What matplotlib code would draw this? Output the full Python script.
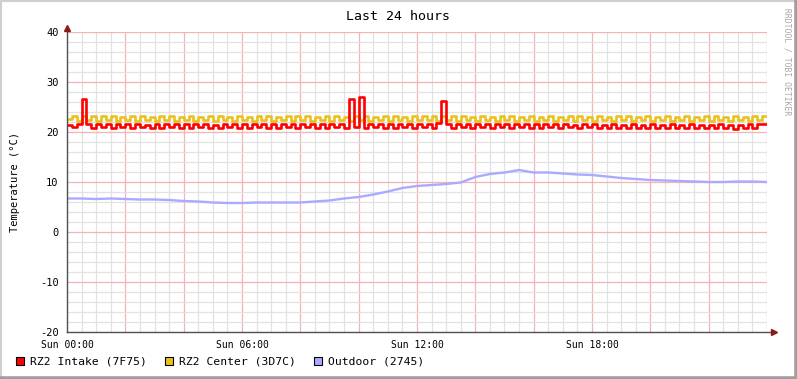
import matplotlib
matplotlib.use("Agg")
import matplotlib.pyplot as plt
from matplotlib.lines import Line2D
from matplotlib.patches import Rectangle
import numpy as np

# RZ2 Intake, 10-minute samples, Sun 00:00 .. Sun 24:00
intake = [
    21.5, 21.0, 21.7, 26.7, 21.6, 20.9, 21.7, 21.0, 21.6, 20.8, 21.7, 21.1,
    21.6, 20.9, 21.7, 21.0, 21.5, 20.8, 21.7, 20.9, 21.6, 21.0, 21.7, 20.9,
    21.6, 20.8, 21.7, 21.0, 21.6, 20.9, 21.5, 20.8, 21.7, 21.0, 21.6, 20.9,
    21.7, 20.9, 21.6, 21.0, 21.7, 20.8, 21.6, 20.9, 21.7, 21.0, 21.6, 20.9,
    21.6, 21.0, 21.7, 20.9, 21.6, 20.8, 21.7, 21.0, 21.6, 20.9, 26.6, 21.0,
    27.0, 20.9, 21.6, 21.0, 21.7, 20.9, 21.6, 20.8, 21.7, 21.0, 21.6, 20.9,
    21.7, 21.0, 21.6, 20.9, 21.8, 26.2, 21.6, 20.9, 21.7, 21.0, 21.6, 20.9,
    21.6, 21.0, 21.7, 20.9, 21.6, 21.1, 21.7, 20.9, 21.6, 21.0, 21.7, 20.9,
    21.6, 20.9, 21.7, 21.0, 21.6, 20.9, 21.7, 21.0, 21.5, 20.9, 21.6, 21.0,
    21.6, 20.8, 21.5, 20.9, 21.6, 20.8, 21.5, 20.9, 21.6, 20.8, 21.5, 20.9,
    21.6, 20.9, 21.5, 20.8, 21.6, 20.9, 21.5, 20.8, 21.6, 20.9, 21.5, 20.8,
    21.5, 20.8, 21.6, 20.9, 21.5, 20.7, 21.4, 20.8, 21.6, 20.9, 21.7, 21.6,
    21.6,
]

# RZ2 Center, 10-minute samples
center = [
    22.6, 23.2, 22.3, 23.3, 22.4, 23.2, 22.3, 23.3, 22.5, 23.2, 22.3, 23.1,
    22.4, 23.2, 22.3, 23.2, 22.4, 23.1, 22.3, 23.2, 22.5, 23.2, 22.3, 23.1,
    22.4, 23.2, 22.3, 23.1, 22.4, 23.2, 22.3, 23.2, 22.4, 23.1, 22.3, 23.2,
    22.4, 23.1, 22.3, 23.2, 22.4, 23.2, 22.3, 23.1, 22.4, 23.2, 22.3, 23.2,
    22.4, 23.2, 22.3, 23.1, 22.5, 23.2, 22.3, 23.2, 22.4, 23.1, 22.3, 23.3,
    22.4, 23.2, 22.3, 23.1, 22.4, 23.2, 22.3, 23.3, 22.4, 23.1, 22.3, 23.2,
    22.5, 23.3, 22.4, 23.2, 22.3, 23.3, 22.4, 23.2, 22.3, 23.2, 22.4, 23.1,
    22.3, 23.2, 22.4, 23.1, 22.3, 23.2, 22.4, 23.2, 22.3, 23.1, 22.4, 23.2,
    22.3, 23.1, 22.4, 23.2, 22.3, 23.1, 22.4, 23.2, 22.3, 23.2, 22.4, 23.1,
    22.3, 23.2, 22.4, 23.1, 22.3, 23.2, 22.4, 23.2, 22.3, 23.1, 22.4, 23.2,
    22.3, 23.1, 22.4, 23.2, 22.3, 23.1, 22.4, 23.2, 22.3, 23.1, 22.4, 23.2,
    22.3, 23.2, 22.4, 23.1, 22.3, 23.2, 22.4, 23.1, 22.3, 23.2, 22.4, 23.2,
    23.2,
]

# Outdoor, 30-minute samples
outdoor = [
    6.7, 6.7, 6.6, 6.7, 6.6, 6.5, 6.5, 6.4, 6.2, 6.1, 5.9, 5.8,
    5.8, 5.9, 5.9, 5.9, 5.9, 6.1, 6.3, 6.7, 7.0, 7.5, 8.1, 8.8,
    9.2, 9.4, 9.6, 9.9, 11.0, 11.6, 11.9, 12.4, 11.9, 11.9, 11.7, 11.5,
    11.4, 11.1, 10.8, 10.6, 10.4, 10.3, 10.2, 10.1, 10.0, 10.0, 10.1, 10.1,
    10.0,
]

labels = ["RZ2 Intake (7F75)", "RZ2 Center (3D7C)", "Outdoor (2745)"]
colors = ["#FF0000", "#E8C21E", "#AAAAFF"]
xtick_pos = [0, 6, 12, 18]
xtick_labels = ["Sun 00:00", "Sun 06:00", "Sun 12:00", "Sun 18:00"]
ytick_pos = [-20, -10, 0, 10, 20, 30, 40]

mono = "DejaVu Sans Mono"
W, H = 797, 379

t10 = np.arange(len(intake)) / 6.0
t30 = np.arange(len(outdoor)) / 2.0

fig = plt.figure(figsize=(W / 100, H / 100), dpi=100, facecolor="white")
ax = fig.add_axes([67 / W, 1 - 332 / H, 700 / W, 300 / H])
ax.set_xlim(0, 24)
ax.set_ylim(-20, 40)
for s in ax.spines.values():
    s.set_visible(False)

# grid
for h in np.arange(0.5, 24.01, 0.5):
    major = abs(h % 2) < 1e-9
    ax.axvline(h, color="#F2B4B4" if major else "#E2E2E2", lw=0.9, zorder=0)
for v in range(-18, 41, 2):
    major = v % 10 == 0
    ax.axhline(v, color="#F2B4B4" if major else "#E2E2E2", lw=0.9, zorder=0)

ax.plot(t10, center, color=colors[1], lw=1.9, drawstyle="steps-post", zorder=3)
ax.plot(t10, intake, color=colors[0], lw=1.9, drawstyle="steps-post", zorder=4)
ax.plot(t30, outdoor, color=colors[2], lw=1.7, zorder=3)

ax.set_xticks(xtick_pos)
ax.set_xticklabels(xtick_labels, fontfamily=mono, fontsize=7)
ax.set_yticks(ytick_pos)
ax.set_yticklabels([str(v) for v in ytick_pos], fontfamily=mono, fontsize=7.5)
ax.tick_params(length=0, pad=6)

# axes with arrow heads
ax.plot([0, 1.008], [0, 0], transform=ax.transAxes, color="#505050", lw=1, clip_on=False, zorder=5)
ax.plot([1.01], [0], transform=ax.transAxes, marker=">", ms=4, color="#8B1A1A", clip_on=False, zorder=5)
ax.plot([0, 0], [0, 1.012], transform=ax.transAxes, color="#505050", lw=1, clip_on=False, zorder=5)
ax.plot([0], [1.015], transform=ax.transAxes, marker="^", ms=4, color="#8B1A1A", clip_on=False, zorder=5)

fig.text(0.5, 1 - 16 / H, "Last 24 hours", ha="center", va="center", fontfamily=mono, fontsize=9.5)
fig.text(15 / W, 1 - 182 / H, "Temperature (°C)", ha="center", va="center", rotation=90,
         fontfamily=mono, fontsize=7.5)
fig.text(787 / W, 1 - 8 / H, "RRDTOOL / TOBI OETIKER", ha="center", va="top", rotation=-90,
         fontfamily=mono, fontsize=5.8, color="#A8A8A8")

# legend
for x0, lab, col in zip([16, 165, 314], labels, colors):
    fig.add_artist(Rectangle((x0 / W, 1 - 365 / H), 8 / W, 8 / H, transform=fig.transFigure,
                             facecolor=col, edgecolor="black", lw=0.8))
    fig.text((x0 + 14) / W, 1 - 361 / H, lab, ha="left", va="center", fontfamily=mono, fontsize=8.2)

# 3d frame
fig.add_artist(Line2D([0, 0, 1], [0, 1, 1], transform=fig.transFigure, color="#CFCFCF", lw=3))
fig.add_artist(Line2D([0, 1, 1], [0, 0, 1], transform=fig.transFigure, color="#9E9E9E", lw=4))

fig.savefig("out.png", dpi=100, facecolor="white")
